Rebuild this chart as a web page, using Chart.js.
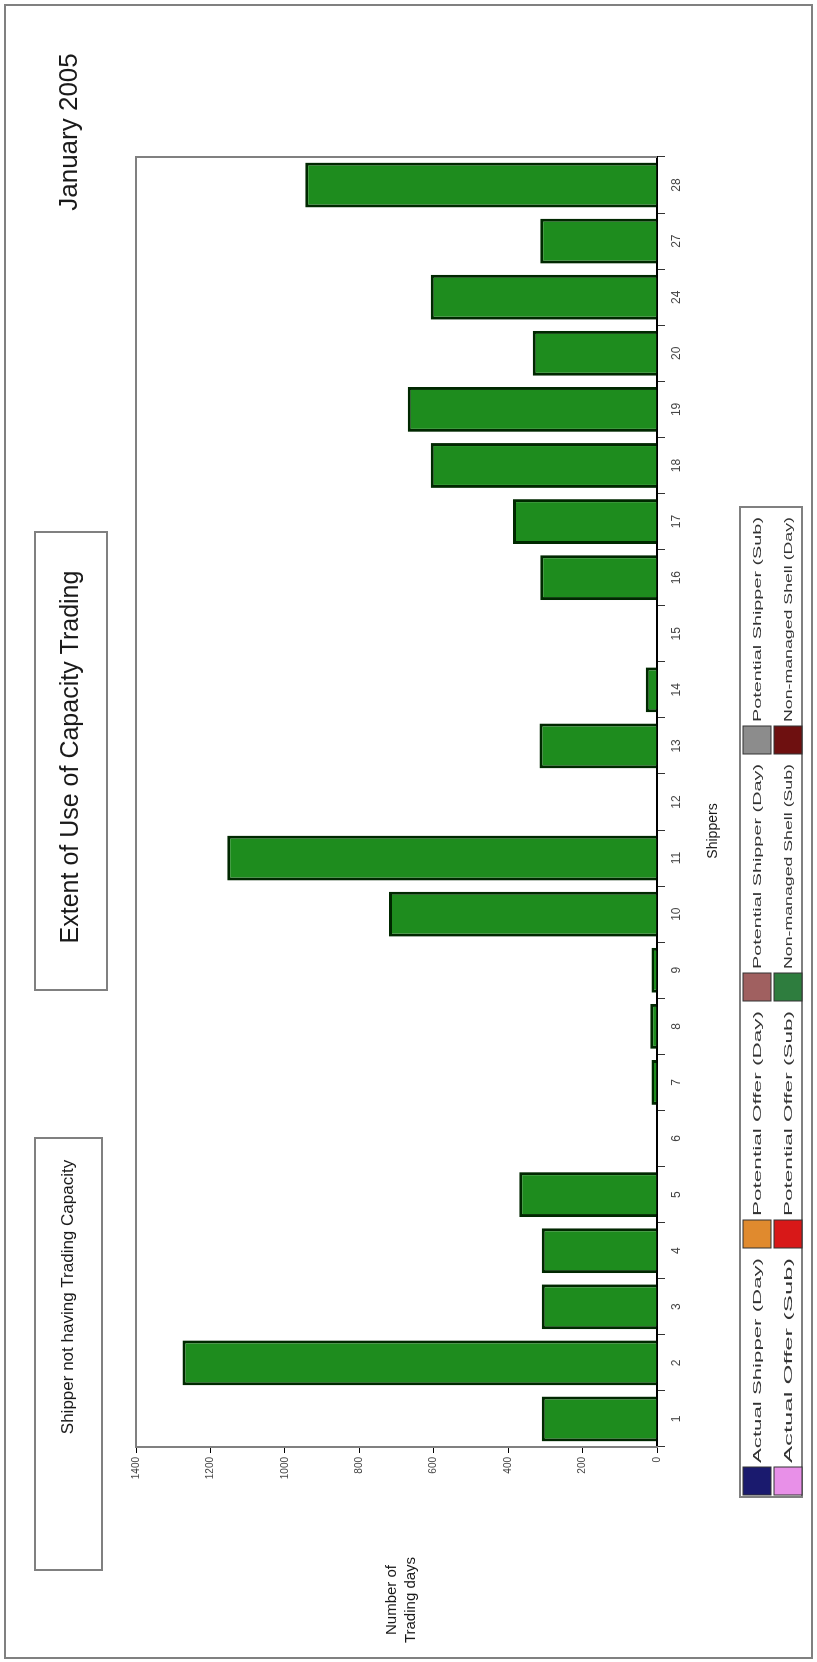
<!DOCTYPE html>
<html>
<head>
<meta charset="utf-8">
<script src="https://cdn.jsdelivr.net/npm/chart.js@4.4.0/dist/chart.umd.min.js"></script>
<style>
  html, body { margin: 0; padding: 0; background: #fff; }
  #wrap { position: relative; width: 817px; height: 1662px; overflow: hidden; }
  /* the chart is drawn upright, then turned a quarter left like the scan */
  #chart { position: absolute; left: 0; top: 0; transform-origin: 0 0; transform: translateY(1662px) rotate(-90deg); }
</style>
</head>
<body>
<div id="wrap"><canvas id="chart" width="1662" height="817"></canvas></div>
<script>
const shippers = ['1', '2', '3', '4', '5', '6', '7', '8', '9', '10', '11', '12', '13', '14', '15', '16', '17', '18', '19', '20', '24', '27', '28'];
const tradingDays = [310, 1275, 310, 310, 370, 0, 15, 18, 15, 720, 1155, 0, 316, 30, 0, 314, 387, 608, 670, 334, 608, 314, 945];
const valueTicks = [0, 200, 400, 600, 800, 1000, 1200, 1400];

const legendLabels = [
  'Actual Shipper (Day)', 'Potential Offer (Day)', 'Potential Shipper (Day)', 'Potential Shipper (Sub)',
  'Actual Offer (Sub)', 'Potential Offer (Sub)', 'Non-managed Shell (Sub)', 'Non-managed Shell (Day)',
];
const legendColors = ['#1a1a6e', '#e08a2e', '#a06060', '#8c8c8c', '#e890e8', '#d81818', '#2e7d3e', '#6e1010'];

const titleText = 'Extent of Use of Capacity Trading';
const dateText = 'January 2005';
const noteText = 'Shipper not having Trading Capacity';
const yTitle = ['Number of', 'Trading days'];
const xTitle = 'Shippers';

const FONT = '"Liberation Sans", Arial, sans-serif';

const decor = {
  id: 'decor',
  beforeDraw(chart) {
    const c = chart.ctx;
    c.save();
    c.fillStyle = '#fff';
    c.fillRect(0, 0, chart.width, chart.height);
    c.restore();
  },
  afterDraw(chart) {
    const c = chart.ctx;
    const a = chart.chartArea;
    c.save();
    // frame round the plot (top and right sides in grey)
    c.strokeStyle = '#808080';
    c.lineWidth = 2;
    c.beginPath();
    c.moveTo(a.left, a.top);
    c.lineTo(a.right, a.top);
    c.lineTo(a.right, a.bottom);
    c.stroke();

    // outer border
    c.strokeRect(4, 5, 1653, 807);

    c.fillStyle = '#1a1a1a';
    c.textBaseline = 'middle';
    c.textAlign = 'center';

    c.font = '26px ' + FONT;
    c.fillText(dateText, 1530, 70);

    c.strokeRect(672, 35, 458, 72);
    c.font = '25px ' + FONT;
    c.fillText(titleText, 905, 71);

    c.strokeRect(92, 35, 432, 67);
    c.font = '17px ' + FONT;
    c.fillText(noteText, 365, 68);

    c.font = '15px ' + FONT;
    c.fillText(yTitle[0], 62, 392);
    c.fillText(yTitle[1], 62, 411);

    c.font = '14px ' + FONT;
    c.fillText(xTitle, 831, 713);

    // legend, labels stretched to run up to the next swatch like the scan
    c.strokeRect(165, 740, 990, 62);
    c.font = '10px ' + FONT;
    c.textAlign = 'left';
    legendLabels.forEach((label, i) => {
      const col = i % 4;
      const row = Math.floor(i / 4);
      const x = 167 + col * 247;
      const y = 743 + row * 31;
      c.fillStyle = legendColors[i];
      c.fillRect(x, y, 28, 28);
      c.strokeStyle = '#333';
      c.lineWidth = 1;
      c.strokeRect(x, y, 28, 28);
      c.fillStyle = '#333';
      const w = c.measureText(label).width;
      c.save();
      c.translate(x + 32, y + 15);
      c.scale(205 / w, 1);
      c.fillText(label, 0, 0);
      c.restore();
    });
    c.restore();
  },
};

new Chart(document.getElementById('chart'), {
  type: 'bar',
  data: {
    labels: shippers,
    datasets: [{
      label: legendLabels[6],
      data: tradingDays,
      backgroundColor: '#1e8c1e',
      borderColor: '#002800',
      borderWidth: 3,
      barPercentage: 0.8,
      categoryPercentage: 1.0,
    }],
  },
  options: {
    responsive: false,
    animation: false,
    devicePixelRatio: 1,
    layout: { padding: { top: 136, right: 157, left: 0, bottom: 0 } },
    plugins: { legend: { display: false }, tooltip: { enabled: false } },
    scales: {
      x: {
        grid: { display: true, drawOnChartArea: false, offset: true, tickLength: 8, color: '#333' },
        border: { display: true, color: '#000', width: 2 },
        ticks: { color: '#444', font: { family: FONT, size: 12 }, padding: 4, maxRotation: 0 },
        afterFit(scale) { scale.height = 160; },
      },
      y: {
        min: 0,
        max: 1400,
        afterBuildTicks(scale) { scale.ticks = valueTicks.map((v) => ({ value: v })); },
        grid: { display: true, drawOnChartArea: false, tickLength: 6, color: '#000' },
        border: { display: true, color: '#808080', width: 2 },
        ticks: { color: '#444', font: { family: FONT, size: 10 }, padding: 4, callback: (v) => String(v) },
        afterFit(scale) { scale.width = 215; },
      },
    },
  },
  plugins: [decor],
});
</script>
</body>
</html>
